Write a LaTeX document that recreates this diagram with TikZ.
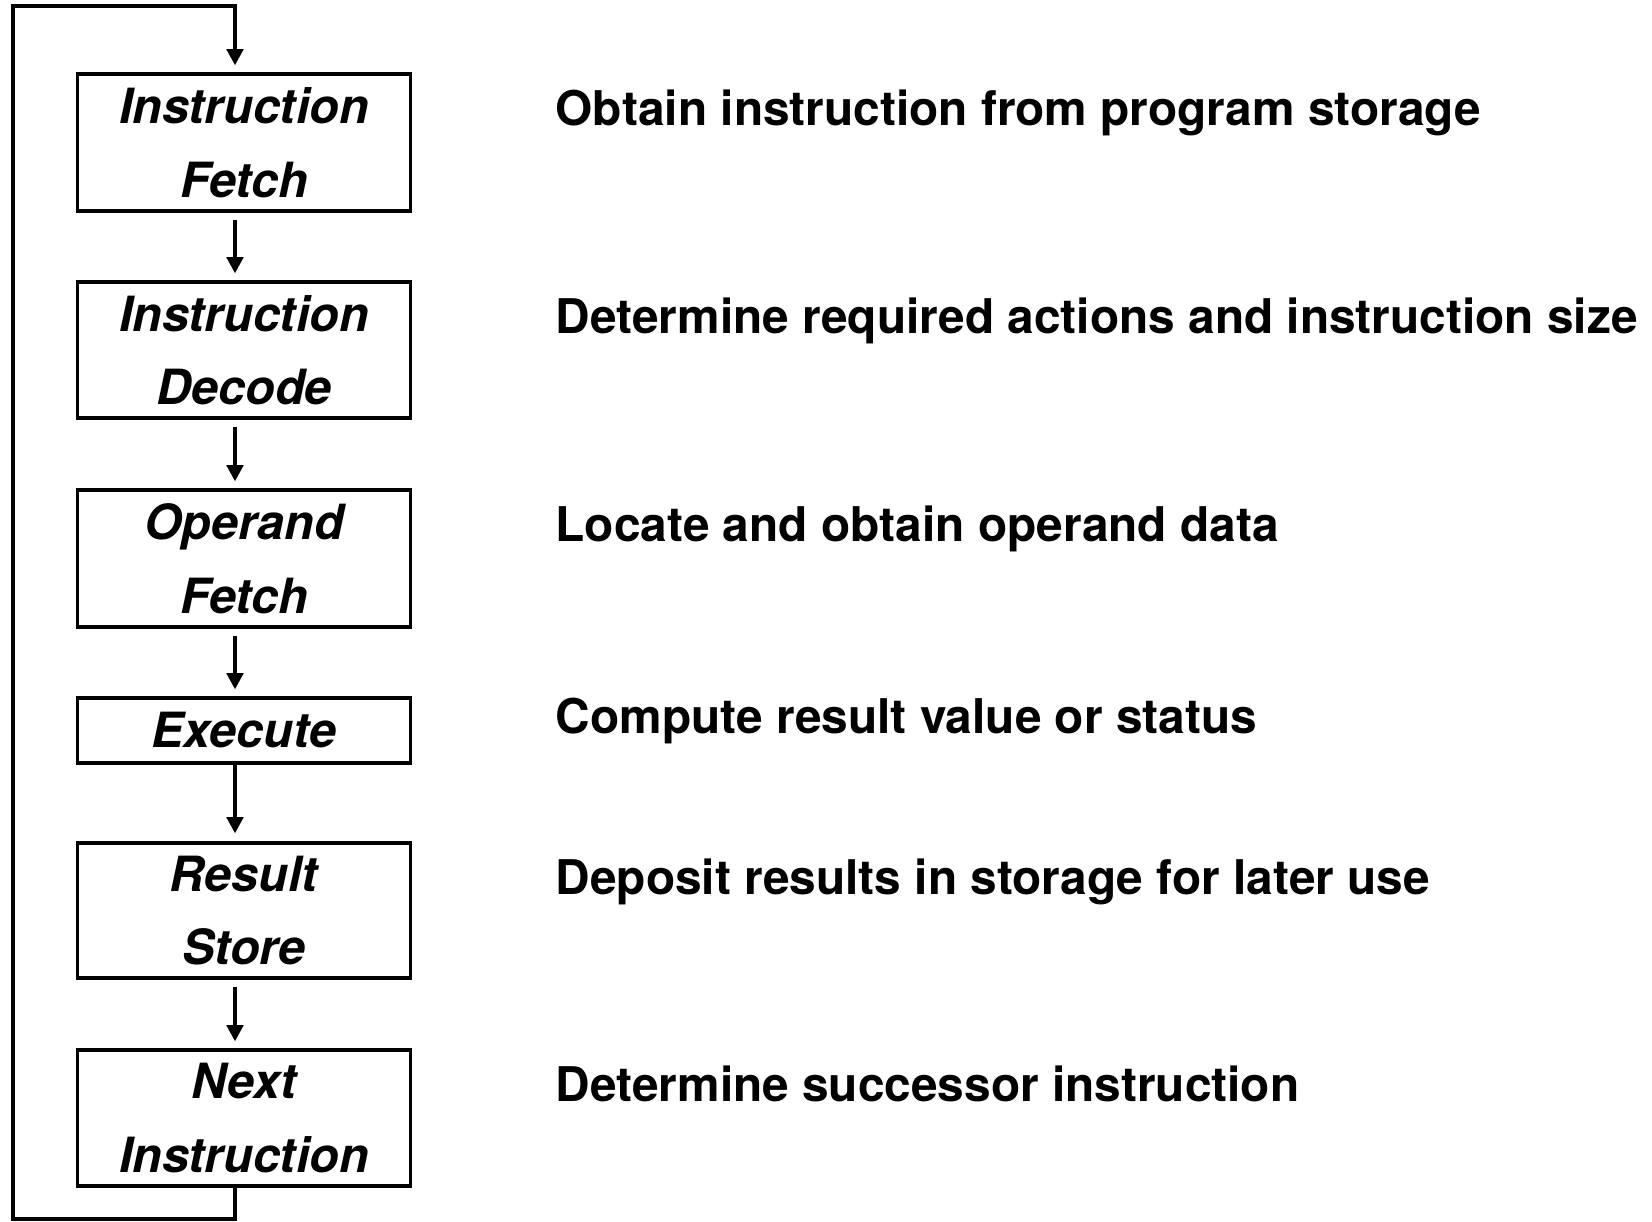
\documentclass[tikz,border=0pt]{standalone}
\usepackage{fontspec}
\setmainfont{TeX Gyre Heros}
\usetikzlibrary{arrows.meta}

\begin{document}
\begin{tikzpicture}[x=0.01cm, y=-0.01cm,
    stage/.style={draw, line width=0.9pt, minimum width=3.32cm, inner sep=0pt, align=center,
        font=\fontsize{13.8}{20.9}\selectfont\bfseries\itshape},
    flow/.style={-{Triangle[width=4.6pt, length=4.6pt]}, line width=1.3pt},
    note/.style={anchor=base west, inner sep=0pt, font=\fontsize{13.6}{16}\selectfont\bfseries}]
    \useasboundingbox (0,0) rectangle (1652,1221);

    % Stage boxes
    \node[stage, minimum height=1.37cm] (ifetch) at (244,142.5) {Instruction\\Fetch};
    \node[stage, minimum height=1.36cm] (idecode) at (244,350) {Instruction\\Decode};
    \node[stage, minimum height=1.37cm] (ofetch) at (244,558.5) {Operand\\Fetch};
    \node[stage, minimum height=0.65cm] (exec) at (244,730.5) {Execute};
    \node[stage, minimum height=1.35cm] (rstore) at (244,910.5) {Result\\Store};
    \node[stage, minimum height=1.36cm] (nexti) at (244,1118) {Next\\Instruction};

    % Arrows between stages
    \coordinate (col) at (235,0);
    \foreach \a/\b in {ifetch/idecode, idecode/ofetch, ofetch/exec, rstore/nexti}
        \draw[flow, shorten <=0.07cm, shorten >=0.07cm] (\a.south -| col) -- (\b.north -| col);
    \draw[flow, shorten >=0.08cm] (exec.south -| col) -- (rstore.north -| col);

    % Loop back to the top
    \coordinate (bot) at (13,1219);
    \coordinate (top) at (13,6);
    \draw[flow, shorten >=0.07cm] (nexti.south -| col) -- (col |- bot) -- (bot) -- (top)
        -- (col |- top) -- (ifetch.north -| col);

    % Descriptions
    \node[note] (d1) at (555,125.5) {Obtain instruction from program storage};
    \node[note] (d2) at (555,333) {Determine required actions and instruction size};
    \node[note] (d3) at (555,541) {Locate and obtain operand data};
    \node[note] (d4) at (555,733) {Compute result value or status};
    \node[note] (d5) at (555,894) {Deposit results in storage for later use};
    \node[note] (d6) at (555,1101) {Determine successor instruction};
\end{tikzpicture}
\end{document}
